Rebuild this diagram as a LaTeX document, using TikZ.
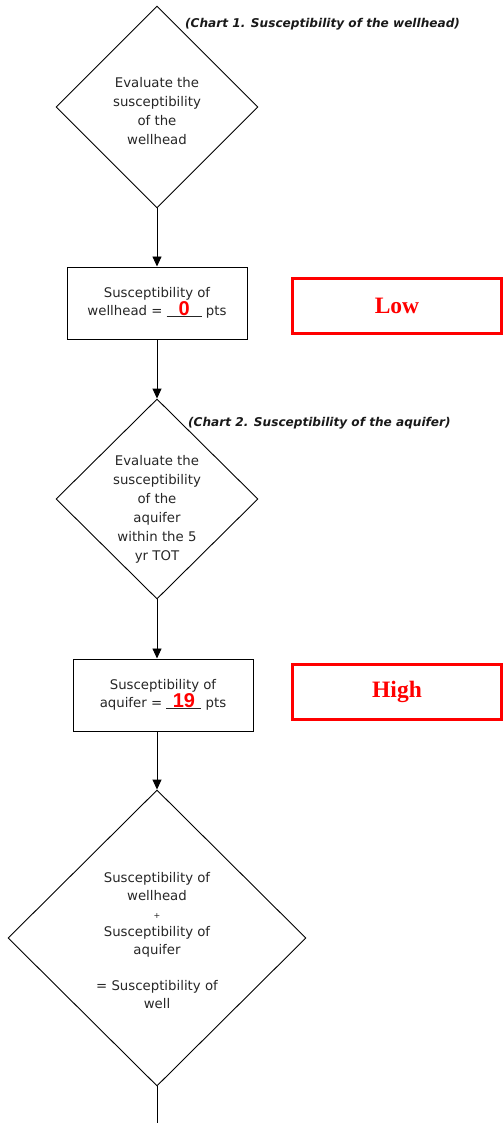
\documentclass[tikz,border=0pt]{standalone}
\usepackage{fontspec}
\setmainfont{DejaVu Sans}[ItalicFont=DejaVu Sans Oblique, BoldItalicFont=DejaVu Sans Bold Oblique]
\newfontfamily\numfont{Liberation Sans}
\newfontfamily\ratefont{Liberation Serif}
\usetikzlibrary{shapes.geometric,arrows.meta}

% a blank to fill in, with the score written over it
\newcommand\scoreblank[1]{\rlap{\rule[-1.2pt]{35pt}{0.7pt}}\makebox[35pt]{\smash{\textcolor{red}{\numfont\bfseries\fontsize{20}{20}\selectfont #1}}}}

\begin{document}
\begin{tikzpicture}[x=1pt,y=-1pt,
  decision/.style={draw, diamond, aspect=1, inner sep=0pt, line width=0.9pt},
  stepbox/.style={draw, rectangle, line width=1.0pt, inner sep=0pt,
    minimum width=180pt, minimum height=72pt, align=center, text=black!85,
    font=\fontsize{13.3}{18.5}\selectfont},
  body/.style={align=center, text=black!85, inner sep=0pt, font=\fontsize{13.3}{19}\selectfont},
  note/.style={anchor=west, inner sep=0pt, text=black!90,
    font=\fontsize{12.1}{14}\selectfont\bfseries\itshape},
  rating/.style={draw=red, line width=3.2pt, text=red, inner sep=0pt,
    font=\ratefont\bfseries\fontsize{23.5}{26}\selectfont,
    minimum width=209pt, minimum height=55pt},
  flow/.style={line width=0.9pt, -{Triangle[width=9pt,length=10pt]}}
]
\useasboundingbox (0,0) rectangle (503,1123);

% wellhead
\node[decision, minimum width=202pt, minimum height=202pt] (d1) at (157,107) {};
\node[body] (d1t) at (157,111) {Evaluate the\\susceptibility\\of the\\wellhead};
\node[note] (c1) at (185,24) {(Chart 1.  Susceptibility of the wellhead)};

\node[stepbox] (r1) at (157,303) {Susceptibility of\\wellhead = \scoreblank{0} pts};
\node[rating] (low) at (397,306) {Low};

% aquifer
\node[decision, minimum width=202pt, minimum height=200pt] (d2) at (157,499) {};
\node[body] (d2t) at (157,509) {Evaluate the\\susceptibility\\of the\\aquifer\\within the 5\\yr TOT};
\node[note] (c2) at (188,423) {(Chart 2.  Susceptibility of the aquifer)};

\node[stepbox] (r2) at (163,695) {Susceptibility of\\aquifer = \scoreblank{19} pts};
\node[rating] (high) at (397,692) {High};

% combined result
\node[decision, minimum width=298pt, minimum height=296pt] (d3) at (157,938) {};
\node[body, font=\fontsize{13.3}{18}\selectfont] (d3t) at (157,941)
  {Susceptibility of\\wellhead\\{\fontsize{8}{8}\selectfont +}\\Susceptibility of\\aquifer\\[18pt]= Susceptibility of\\well};
\coordinate (tail) at (157,1123);

% connectors
\draw[flow] (d1.south) -- (r1.north);
\draw[flow] (r1.south) -- (d2.north);
\draw[flow] (d2.south) -- (d2.south |- r2.north);
\draw[flow] (d3.north |- r2.south) -- (d3.north);
\draw[line width=0.9pt] (d3.south) -- (tail);
\end{tikzpicture}
\end{document}
